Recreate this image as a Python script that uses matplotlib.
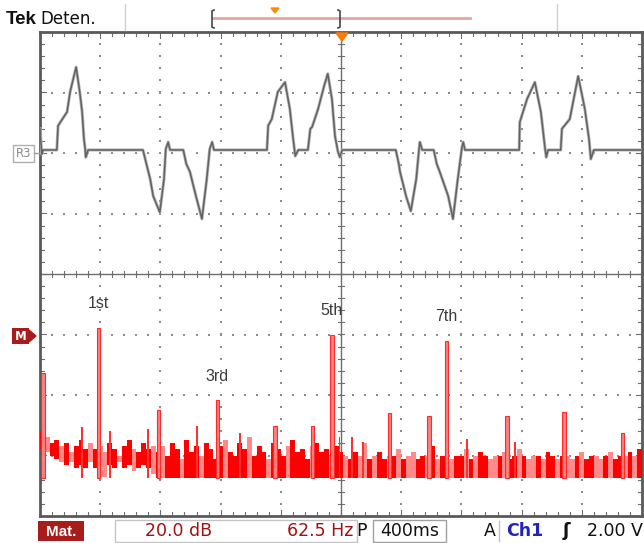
import matplotlib
matplotlib.use('Agg')
import matplotlib.pyplot as plt
import numpy as np
from matplotlib.patches import Rectangle, Polygon

# ---------------- data ----------------
# Reference waveform R3: time (divisions), level (divisions from screen centre)
wave_t = [0.00, 0.03, 0.05, 0.28, 0.30, 0.45, 0.50, 0.60, 0.66, 0.70, 0.73, 0.75, 0.76, 0.80,
          1.71, 1.76, 1.83, 1.88, 1.99, 2.06, 2.09, 2.13, 2.16, 2.38, 2.43, 2.49, 2.59, 2.69,
          2.77, 2.82, 2.86, 2.89, 3.77, 3.79, 3.85, 3.95, 4.07, 4.15, 4.20, 4.24, 4.29, 4.45,
          4.49, 4.52, 4.62, 4.72, 4.78, 4.85, 4.90, 4.95, 4.98, 5.02, 5.91, 5.96, 5.98, 6.08,
          6.16, 6.25, 6.30, 6.31, 6.35, 6.54, 6.59, 6.64, 6.78, 6.86, 6.94, 7.01, 7.03, 7.06,
          7.96, 7.97, 8.09, 8.22, 8.32, 8.39, 8.41, 8.44, 8.65, 8.67, 8.80, 8.94, 9.05, 9.12,
          9.15, 9.20, 10.0]
wave_v = [2.40, 1.98, 2.05, 2.05, 2.45, 2.68, 3.01, 3.42, 3.01, 2.68, 2.23, 2.07, 1.93, 2.05,
          2.05, 1.85, 1.57, 1.29, 1.02, 1.57, 2.07, 2.18, 2.05, 2.05, 1.82, 1.69, 1.29, 0.91,
          1.57, 2.07, 2.18, 2.05, 2.05, 2.45, 2.56, 3.01, 3.17, 2.73, 2.28, 1.95, 2.05, 2.05,
          2.40, 2.43, 2.73, 3.11, 3.31, 2.89, 2.28, 2.02, 1.93, 2.05, 2.05, 1.82, 1.69, 1.29,
          1.04, 1.57, 2.10, 2.18, 2.05, 2.05, 1.82, 1.69, 1.29, 0.91, 1.57, 2.10, 2.18, 2.05,
          2.05, 2.51, 2.89, 3.17, 2.68, 2.07, 1.93, 2.05, 2.05, 2.40, 2.56, 3.27, 2.73, 2.23,
          1.90, 2.05, 2.05]

# FFT (Math): 62.5 Hz/div, 20 dB/div, reference level at -1 div
hz_per_div = 62.5
db_per_div = 20.0
math_offset = -1.0
bin_hz = 5.0
noise_top_db = [-32, -34, -36, -35, -37, -36, -39, -37, -35, -38, -36, -38, -37, -39, -36, -38,
                -40, -37, -35, -38, -39, -36, -38, -37, -39,
                -37, -40, -36, -38, -41, -35, -39, -37, -40, -36,
                -38, -41, -37, -35, -39, -40, -36, -38, -34, -40,
                -37, -39, -41, -36, -38, -40, -37, -35, -39, -38,
                -41, -37, -36, -39, -38, -40, -37, -39,
                -40, -41, -39, -40, -36, -41, -40, -39, -41, -40,
                -40, -38, -41, -40, -39, -41, -40, -40, -37, -41,
                -40, -39, -41, -40, -40, -38, -41, -40, -39, -40,
                -41, -40, -40, -39, -41, -40, -38, -40, -41, -40,
                -40, -41, -39, -40, -41, -40, -40, -41, -40, -39,
                -41, -40, -40, -41, -40, -39, -41, -40, -40, -39, -40, -38]
noise_bot_db = [-38, -39, -40, -41, -42, -43, -42, -44, -43, -44, -42, -44, -47, -47, -43, -44,
                -42, -44, -43, -45, -44, -43, -44, -46] + [-47.3] * 101
noise_shade = [0, 1, 0, 0, 1, 0, 1, 0, 0, 0, 1, 0, 1, 1, 0, 0, 1, 0, 0, 1, 0, 0, 0, 1, 0,
               1, 0, 0, 0, 1, 0, 0, 0, 1, 0, 0, 0, 0, 1, 0, 0, 0, 0, 1, 0, 0, 0, 1, 0, 0,
               0, 1, 0, 0, 0, 0, 1, 0, 0, 0, 1, 0, 0, 1, 0, 0, 1, 1, 0, 1, 0, 0, 1, 0, 1,
               0, 1, 1, 0, 0, 1, 0, 1, 0, 1, 1, 0, 0, 1, 0, 1, 0, 0, 1, 1, 0, 1, 0, 0, 1,
               0, 1, 1, 0, 1, 0, 0, 1, 0, 1, 1, 0, 1, 0, 0, 1, 1, 0, 1, 0, 0, 1, 0, 1, 0]
spike_hz = [44, 73, 112, 163, 208, 311, 324, 335, 443, 493]
spike_db = [-30.7, -32.0, -31.4, -30.4, -32.7, -34.0, -34.0, -35.4, -34.4, -35.4]
peak_hz = [3, 61, 123, 184, 244, 283, 303, 363, 404, 422, 485, 544, 605]
peak_db = [-12.6, 2.3, -25.1, -21.8, -30.1, -30.4, 0.0, -25.8, -26.8, -2.0, -27.1, -25.5, -32.4]
harm_labels = ['1st', '3rd', '5th', '7th']
harm_hz = [61, 184, 303, 422]
harm_db = [2.3, -21.8, 0.0, -2.0]

# ---------------- figure ----------------
W, H = 644, 543
fig = plt.figure(figsize=(W / 100, H / 100), dpi=100)
fig.patch.set_facecolor('white')

x0, x1, y0, y1 = 40, 642, 32, 516
ax = fig.add_axes([x0 / W, 1 - y1 / H, (x1 - x0) / W, (y1 - y0) / H])
ax.set_xlim(0, 10)
ax.set_ylim(-4, 4)
ax.set_xticks([])
ax.set_yticks([])
for s in ax.spines.values():
    s.set_color('#5a5a5a')
    s.set_linewidth(2.0)

grid_col = '#8c8c8c'
ys = np.arange(-4, 4.001, 0.2)
xs = np.arange(0, 10.001, 0.2)
for xd in range(1, 10):
    if xd == 5:
        continue
    ax.scatter(np.full_like(ys, xd), ys, s=2.0, color=grid_col, marker='s', linewidths=0, zorder=1)
for yd in range(-3, 4):
    if yd == 0:
        continue
    ax.scatter(xs, np.full_like(xs, yd), s=2.0, color=grid_col, marker='s', linewidths=0, zorder=1)

ax.axhline(0, color='#6e6e6e', lw=1.0, zorder=1)
ax.axvline(5, color='#6e6e6e', lw=1.0, zorder=1)
tx = 0.05
ty = 0.05
for v in xs:
    ax.plot([v, v], [-ty, ty], color='#6e6e6e', lw=0.8, zorder=1)
    L = 0.10 if abs(v - round(v)) < 1e-6 else 0.06
    ax.plot([v, v], [-4, -4 + L], color='#6e6e6e', lw=0.8, zorder=1)
    ax.plot([v, v], [4, 4 - L], color='#6e6e6e', lw=0.8, zorder=1)
for v in ys:
    ax.plot([5 - tx, 5 + tx], [v, v], color='#6e6e6e', lw=0.8, zorder=1)
    L = 0.10 if abs(v - round(v)) < 1e-6 else 0.06
    ax.plot([0, L], [v, v], color='#6e6e6e', lw=0.8, zorder=1)
    ax.plot([10, 10 - L], [v, v], color='#6e6e6e', lw=0.8, zorder=1)

# waveform
ax.plot(wave_t, wave_v, color='#b4b4b4', lw=2.2, zorder=3)
ax.plot(wave_t, wave_v, color='#626262', lw=1.1, zorder=4)

# spectrum
bin_x = (np.arange(len(noise_top_db)) * bin_hz + bin_hz / 2) / hz_per_div
top = np.array(noise_top_db) / db_per_div + math_offset
bot = np.array(noise_bot_db) / db_per_div + math_offset
cols = ['#ff8a8a' if c else '#ff0000' for c in noise_shade]
ax.bar(bin_x, top - bot, bottom=bot, width=bin_hz / hz_per_div, color=cols, linewidth=0, zorder=5)
floor = -47.3 / db_per_div + math_offset
sp_x = np.array(spike_hz) / hz_per_div
sp_y = np.array(spike_db) / db_per_div + math_offset
ax.bar(sp_x, sp_y - floor, bottom=floor, width=0.03, color='#ff3030', linewidth=0, zorder=5)
pk_x = np.array(peak_hz) / hz_per_div
pk_y = np.array(peak_db) / db_per_div + math_offset
ax.bar(pk_x, pk_y - floor, bottom=floor, width=0.055, color='#ff8080', edgecolor='#ff2a2a',
       linewidth=0.8, zorder=6)
for lab, f, d in zip(harm_labels, harm_hz, harm_db):
    ax.text(f / hz_per_div, d / db_per_div + math_offset + 0.40, lab, ha='center', va='center',
            fontsize=11.5, color='#3a3a3a', family=['Liberation Sans', 'DejaVu Sans'], zorder=7)

# ---------------- overlay decorations (pixel coords) ----------------
ov = fig.add_axes([0, 0, 1, 1], zorder=10)
ov.set_xlim(0, W)
ov.set_ylim(H, 0)
ov.axis('off')
ov.patch.set_alpha(0)

narrow = ['Liberation Sans Narrow', 'Liberation Sans', 'DejaVu Sans']
ov.text(6, 19, 'Tek', fontsize=13.5, fontweight='bold', family=['Liberation Sans', 'DejaVu Sans'],
        va='center', ha='left', color='#111')
ov.text(40, 19, 'Deten.', fontsize=12, family=['DejaVu Sans'], va='center', ha='left', color='#111')
for sx in (125, 557):
    ov.plot([sx, sx], [4, 30], color='#cfcfcf', lw=1)
ov.plot([213, 470], [18, 18], color='#e6a4a4', lw=2)
for bx, d in ((212, 1), (340, -1)):
    ov.plot([bx + 2 * d, bx, bx, bx + 2 * d], [10, 11, 27, 28], color='#444', lw=1.2)
ov.add_patch(Polygon([[271, 8], [279, 8], [275, 13]], closed=True, color='#ff8a00'))
ov.add_patch(Polygon([[336, 33], [348, 33], [342, 41]], closed=True, color='#ff7a00'))

# R3 marker
ov.add_patch(Rectangle((13, 145), 21, 17, fill=False, edgecolor='#b0b0b0', lw=1))
ov.text(23.5, 153.5, 'R3', fontsize=8.5, color='#8a8a8a', ha='center', va='center', family=['DejaVu Sans'])
ov.plot([34, 39], [153, 153], color='#9a9a9a', lw=1)
# M marker
ov.add_patch(Rectangle((12, 328), 17, 16, facecolor='#a81c1c', edgecolor='none'))
ov.text(20.5, 336.5, 'M', fontsize=8.5, color='white', fontweight='bold', ha='center', va='center',
        family=['DejaVu Sans'])
ov.add_patch(Polygon([[29, 330], [29, 342], [36, 336]], closed=True, color='#a81c1c'))

# bottom bar
bb = ['DejaVu Sans']
ov.add_patch(Rectangle((38, 521), 46, 20, facecolor='#a81c1c', edgecolor='none'))
ov.text(61, 531.5, 'Mat.', fontsize=11, color='white', fontweight='bold', ha='center', va='center', family=narrow)
ov.add_patch(Rectangle((115, 520), 242, 22, fill=False, edgecolor='#c4c4c4', lw=1))
ov.text(179, 531.5, '20.0 dB', fontsize=12.5, color='#a01010', ha='center', va='center', family=bb)
ov.text(320, 531.5, '62.5 Hz', fontsize=12.5, color='#a01010', ha='center', va='center', family=bb)
ov.text(362, 531.5, 'P', fontsize=12.5, color='#111', ha='center', va='center', family=bb)
ov.add_patch(Rectangle((373, 520), 73, 22, fill=False, edgecolor='#a0a0a0', lw=1))
ov.text(410, 531.5, '400ms', fontsize=12.5, color='#111', ha='center', va='center', family=bb)
ov.text(490, 531.5, 'A', fontsize=12.5, color='#111', ha='center', va='center', family=bb)
ov.plot([499, 499], [521, 541], color='#c4c4c4', lw=1)
ov.text(525, 531.5, 'Ch1', fontsize=12.5, color='#2323b5', ha='center', va='center', family=bb, fontweight='bold')
ov.text(566, 531.5, 'ʃ', fontsize=13, color='#111', ha='center', va='center', family=bb, fontweight='bold')
ov.text(587, 531.5, '2.00 V', fontsize=12.5, color='#111', ha='left', va='center', family=bb)

fig.savefig('out.png', dpi=100, facecolor='white')
